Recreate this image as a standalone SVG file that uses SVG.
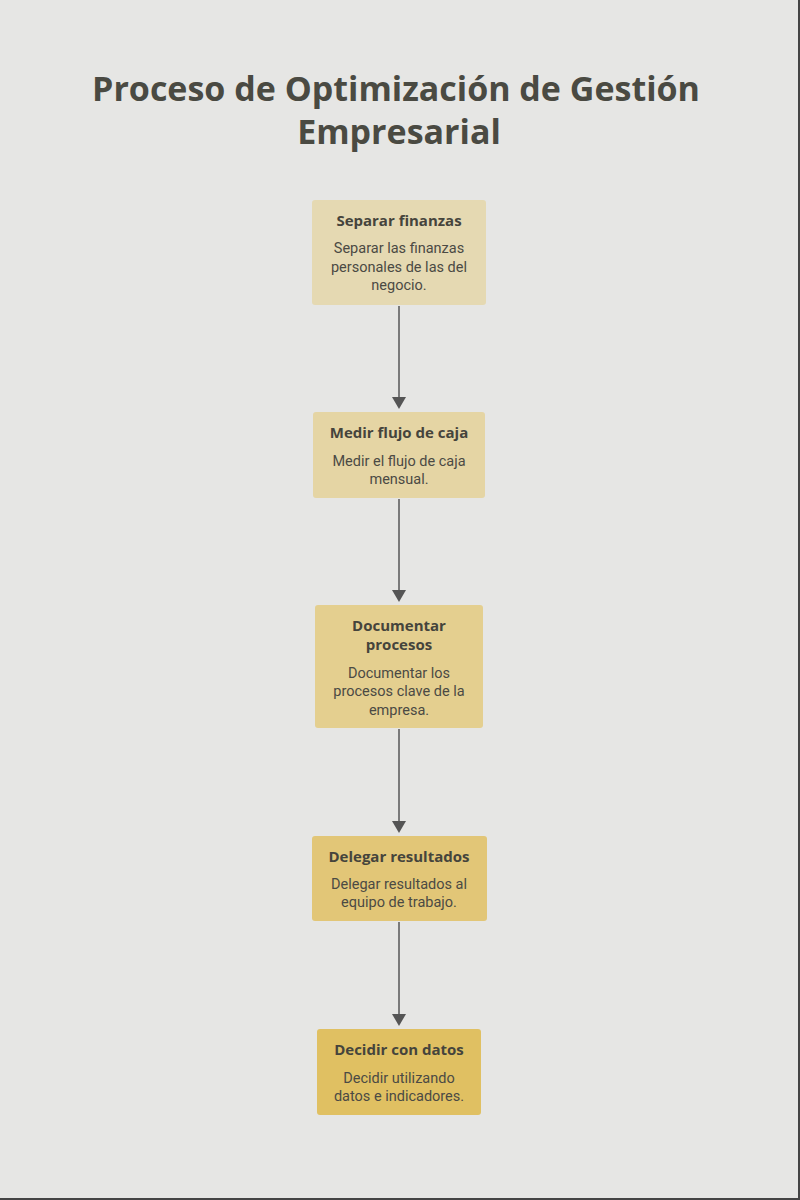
<svg xmlns="http://www.w3.org/2000/svg" width="800" height="1200" viewBox="0 0 800 1200">
<style>
.t{font-family:"Open Sans","Noto Sans",sans-serif;font-weight:700;font-size:34px;fill:#4a4a42;text-anchor:middle}
.h{font-family:"Open Sans","Noto Sans",sans-serif;font-weight:700;font-size:15px;fill:#45443c;text-anchor:middle}
.d{font-family:Roboto,"Liberation Sans",sans-serif;font-size:14.5px;fill:#4b4a44;text-anchor:middle}
.e{stroke:#7a7a7a;stroke-width:2;fill:none;marker-end:url(#a)}
</style>
<defs><marker id="a" viewBox="0 0 10 10" refX="10" refY="5" markerWidth="7" markerHeight="7" markerUnits="userSpaceOnUse" orient="auto"><path d="M0,0L10,5L0,10z" fill="#555"/></marker>
<marker id="b" viewBox="0 0 14 12" refX="14" refY="6" markerWidth="14" markerHeight="12" markerUnits="userSpaceOnUse" orient="auto"><path d="M0,0L14,6L0,12z" fill="#555"/></marker></defs>
<rect width="800" height="1200" fill="#e6e6e4"/>
<path d="M799,0V1199H0" stroke="#444" stroke-width="2" fill="none"/>
<text class="t" x="396" y="101">Proceso de Optimización de Gestión</text>
<text class="t" x="399" y="144">Empresarial</text>
<g id="edges" stroke="#7a7a7a" stroke-width="2">
<line x1="399" y1="306" x2="399" y2="398"/>
<line x1="399" y1="499" x2="399" y2="591"/>
<line x1="399" y1="729" x2="399" y2="822"/>
<line x1="399" y1="922" x2="399" y2="1015"/>
<g fill="#555" stroke="none">
<path d="M392,397h14l-7,12z"/><path d="M392,590h14l-7,12z"/><path d="M392,821h14l-7,12z"/><path d="M392,1014h14l-7,12z"/>
</g>
</g>
<g id="n1"><rect x="312" y="200" width="174" height="105" rx="3" fill="#e5d9b2"/>
<text class="h" x="399" y="226">Separar finanzas</text>
<text class="d" x="399" y="253">Separar las finanzas</text><text class="d" x="399" y="272">personales de las del</text><text class="d" x="399" y="290">negocio.</text></g>
<g id="n2"><rect x="313" y="412" width="172" height="86" rx="3" fill="#e5d5a4"/>
<text class="h" x="399" y="438">Medir flujo de caja</text>
<text class="d" x="399" y="466">Medir el flujo de caja</text><text class="d" x="399" y="484">mensual.</text></g>
<g id="n3"><rect x="315" y="605" width="168" height="123" rx="3" fill="#e4cf8f"/>
<text class="h" x="399" y="631">Documentar</text><text class="h" x="399" y="650">procesos</text>
<text class="d" x="399" y="678">Documentar los</text><text class="d" x="399" y="696">procesos clave de la</text><text class="d" x="399" y="715">empresa.</text></g>
<g id="n4"><rect x="312" y="836" width="175" height="85" rx="3" fill="#e2c677"/>
<text class="h" x="399" y="862">Delegar resultados</text>
<text class="d" x="399" y="889">Delegar resultados al</text><text class="d" x="399" y="907">equipo de trabajo.</text></g>
<g id="n5"><rect x="317" y="1029" width="164" height="86" rx="3" fill="#e0c062"/>
<text class="h" x="399" y="1055">Decidir con datos</text>
<text class="d" x="399" y="1083">Decidir utilizando</text><text class="d" x="399" y="1101">datos e indicadores.</text></g>
</svg>
